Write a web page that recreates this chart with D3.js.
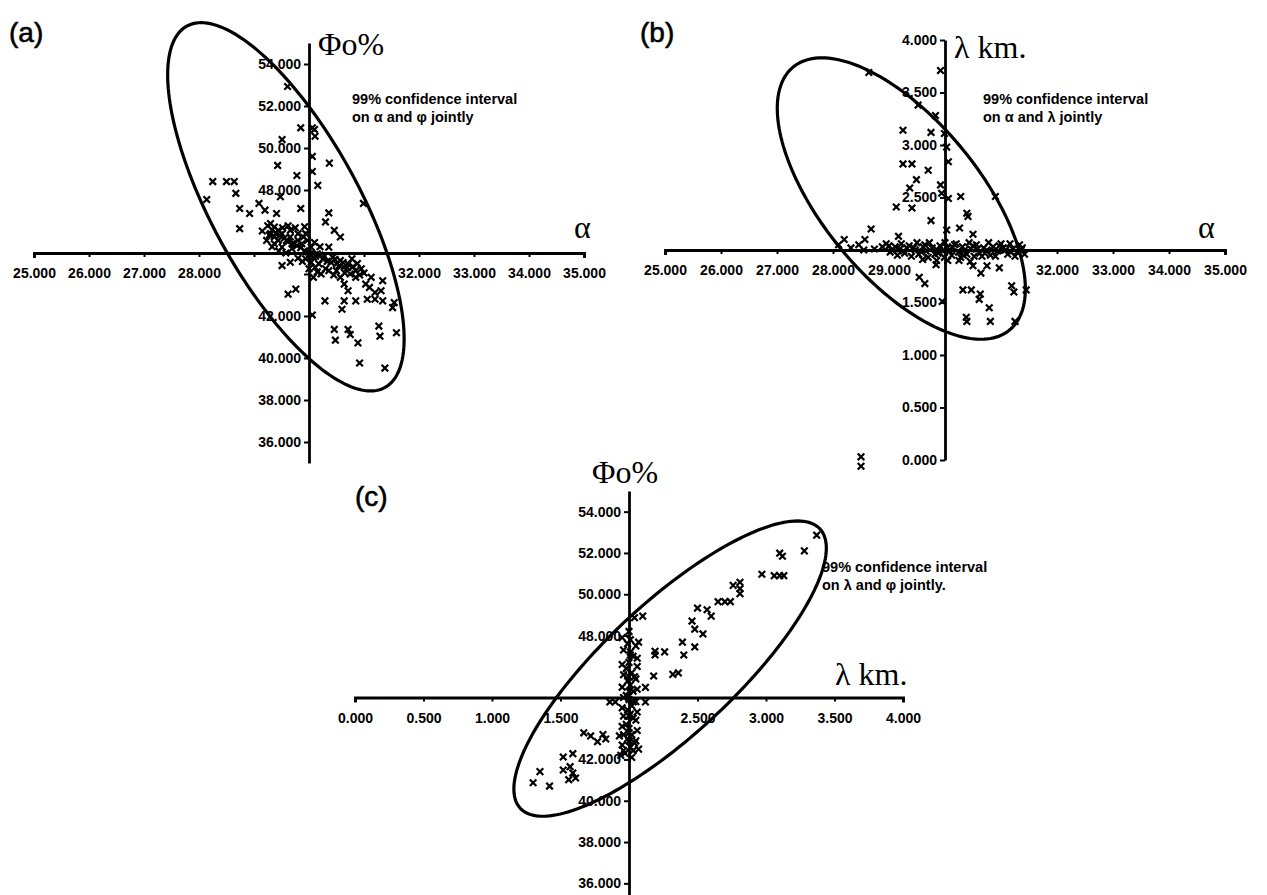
<!DOCTYPE html>
<html>
<head>
<meta charset="utf-8">
<script src="https://cdn.jsdelivr.net/npm/d3@7"></script>
<style>
body{margin:0;background:#fff}
svg text{font-family:"Liberation Sans",Arial,sans-serif;fill:#000}
</style>
</head>
<body>
<script>
// tick values and labels
const alphaTicks=[25,26,27,28,29,30,31,32,33,34,35];
const alphaLabelsA=[25,26,27,28,32,33,34,35];
const alphaLabelsB=[25,26,27,28,29,32,33,34,35];
const phiTicks=[36,38,40,42,44,46,48,50,52,54];
const phiLabels=[36,38,40,42,48,50,52,54];
const lambdaTicks=[0,0.5,1,1.5,2,2.5,3,3.5,4];
const lambdaLabels=[0,0.5,1,1.5,2.5,3,3.5,4];

// confidence ellipses: centre x, centre y, offset to top point (dx, dy), half width of horizontal chord through centre
const ellipseA=[29.58,47.2,-1.54,8.77,1.5];
const ellipseB=[29.22,2.49,-1.42,1.34,1.7];
const ellipseC=[2.30,46.4,0.93,7.15,0.66];

// (a) alpha vs phi
const pointsA=[
[29.61,52.93],[29.85,50.96],[30.06,50.96],[30.10,50.88],[30.11,50.56],[29.51,50.40],[29.43,49.17],[29.78,48.69],
[30.06,49.60],[30.06,48.88],[30.37,49.28],[30.16,48.22],[28.25,48.40],[28.50,48.40],[28.64,48.40],[28.14,47.55],
[28.67,47.84],[28.74,47.12],[28.92,46.88],[28.74,46.16],[29.09,47.36],[29.20,47.04],[29.41,46.88],[29.48,47.68],
[29.85,47.12],[30.36,46.91],[30.30,46.48],[30.99,47.36],[30.46,46.08],[30.57,45.76],
[29.30,46.40],[29.37,46.24],[29.44,46.08],[29.30,45.92],[29.37,45.76],[29.51,45.92],[29.66,46.08],[29.80,45.92],
[29.90,45.76],[29.23,45.60],[29.37,45.44],[29.59,45.60],[29.73,45.44],[29.87,45.44],[29.97,45.60],[30.04,45.28],
[29.69,45.20],[29.51,45.28],[29.44,45.60],[29.80,45.60],[29.94,45.92],[29.66,45.76],
[30.01,44.96],[30.08,44.80],[30.15,44.96],[30.04,44.56],[30.18,44.48],[30.25,44.72],[29.94,44.72],[30.11,44.32],
[30.36,45.28],[30.43,44.80],[30.50,44.48],[30.57,44.64],[30.64,44.32],[30.71,44.48],[30.78,44.72],[30.85,44.16],
[30.50,44.16],[30.36,44.16],[30.22,44.00],[30.08,43.84],[29.51,44.40],[29.66,44.56],
[29.25,46.30],[29.33,46.10],[29.40,45.95],[29.47,45.85],[29.55,45.70],[29.62,45.55],[29.70,45.45],[29.78,45.35],
[29.85,45.25],[29.92,45.10],[29.98,45.05],[30.03,44.90],[30.12,44.85],[30.20,44.90],[30.28,44.85],[30.33,44.60],
[30.40,44.55],[30.47,44.70],[30.55,44.40],[30.62,44.55],[30.70,44.30],[30.80,44.35],[30.88,44.50],[30.95,44.25],
[31.00,44.05],[30.92,43.95],[30.75,44.00],[30.65,44.05],[30.45,43.95],[30.30,44.25],[30.15,44.10],[30.00,44.25],
[29.88,44.60],[29.80,44.75],[29.58,45.00],[29.45,45.10],[29.33,45.30],[29.28,45.85],[29.52,46.20],[29.75,46.20],
[29.62,46.30],[29.15,46.05],[29.92,46.25],[30.20,45.30],[30.10,45.50],
[30.57,43.84],[30.64,43.52],[30.71,43.20],[30.85,43.84],[31.03,43.52],[31.10,43.36],[31.20,43.12],[31.13,43.84],
[31.31,43.20],[31.34,43.68],[30.85,42.72],[31.06,42.80],[31.20,42.80],[31.34,42.72],[31.55,42.64],[31.52,42.40],
[30.64,42.72],[30.60,42.32],[30.29,42.72],[29.76,43.28],[29.62,43.04],[30.06,42.05],
[30.46,41.36],[30.48,40.85],[30.71,41.36],[30.75,41.12],[30.89,40.72],[31.27,41.52],[31.29,41.04],[31.59,41.20],
[30.92,39.76],[31.38,39.52]
];

// (b) alpha vs lambda
const pointsB=[
[28.64,3.69],[29.92,3.71],[29.52,3.38],[29.83,3.28],[29.25,3.14],[29.75,3.12],[29.99,3.11],[30.03,2.98],
[30.06,2.84],[29.25,2.82],[29.41,2.82],[29.70,2.76],[29.49,2.67],[29.37,2.59],[29.92,2.62],[29.94,2.54],
[30.06,2.49],[30.28,2.51],[30.90,2.51],[29.13,2.41],[29.41,2.40],[30.39,2.35],[30.41,2.32],[29.75,2.28],
[30.03,2.19],[30.26,2.21],[28.68,2.20],[29.17,2.13],[30.50,2.15],[28.20,2.10],[28.57,2.10],[28.46,2.05],[28.10,2.05],
[28.32,2.02],[28.55,2.00],[28.74,2.01],[28.88,2.03],[29.02,1.98],[29.11,2.03],[29.19,2.01],[29.28,1.97],
[29.36,2.04],[29.47,2.00],[29.53,1.96],[29.61,2.03],[29.66,1.99],[29.77,2.02],[29.82,1.96],[29.91,2.04],
[29.96,1.99],[30.04,2.02],[30.12,1.95],[30.17,2.05],[30.24,1.98],[30.31,2.03],[30.39,1.96],[30.46,2.01],
[30.56,2.05],[30.62,1.97],[30.69,2.02],[30.81,1.95],[30.86,2.03],[30.94,1.99],[31.04,2.02],[31.12,1.96],
[31.21,2.01],[31.29,1.98],[31.38,2.02],
[28.95,2.06],[29.05,2.00],[29.15,1.95],[29.22,2.06],[29.32,2.02],[29.40,1.94],[29.50,2.07],[29.58,1.98],
[29.70,1.93],[29.72,2.07],[29.86,2.00],[29.99,1.93],[30.00,2.07],[30.08,1.99],[30.20,2.06],[30.28,1.93],
[30.35,2.00],[30.43,2.07],[30.52,1.94],[30.58,2.01],[30.66,1.94],[30.75,2.00],[30.78,2.07],[30.90,1.94],
[31.00,2.06],[31.08,2.00],[31.16,2.06],[31.25,1.94],[31.33,2.05],[31.42,1.96],[30.05,1.90],[30.25,1.90],
[30.45,1.89],[29.60,1.91],[29.85,1.90],
[29.00,2.04],[29.26,1.99],[29.44,2.02],[29.64,2.05],[29.88,1.97],[30.13,2.03],[30.33,1.95],[30.50,2.04],
[30.71,1.97],[30.97,2.04],[31.18,1.98],[31.36,2.00],
[29.84,1.86],[29.54,1.74],[29.64,1.68],[30.50,1.85],[30.64,1.78],[30.75,1.85],[30.97,1.83],[30.32,1.62],
[30.47,1.62],[30.63,1.58],[30.61,1.53],[31.19,1.66],[31.23,1.60],[31.45,1.62],[30.79,1.45],[30.38,1.36],
[30.39,1.32],[30.81,1.32],[31.25,1.32],[29.95,1.51],[28.50,0.03],[28.50,-0.06]
];

// (c) lambda vs phi
const pointsC=[
[3.37,52.86],[3.28,52.10],[3.10,51.99],[3.12,51.84],[2.97,50.97],[3.06,50.90],[3.10,50.90],[3.13,50.90],
[2.76,50.43],[2.81,50.58],[2.81,50.27],[2.81,50.03],[2.65,49.64],[2.70,49.64],[2.74,49.64],[2.50,49.33],
[2.57,49.25],[2.60,48.94],[2.46,48.70],[2.48,48.31],[2.54,48.08],[2.04,48.86],[2.10,48.94],[2.07,47.68],
[2.39,47.68],[2.40,47.06],[2.48,47.45],[2.26,47.21],[2.19,47.24],[2.19,47.06],[2.18,46.04],[2.32,46.12],
[2.36,46.19],[2.01,47.06],[2.12,45.49],[1.86,44.78],[1.90,44.78],[2.03,44.78],[2.12,44.78],
[1.67,43.29],[1.72,43.14],[1.77,42.86],[1.81,43.21],[1.83,42.99],[1.93,43.14],[1.96,42.43],[2.03,42.43],
[1.52,42.12],[1.59,42.28],[1.52,41.49],[1.57,41.65],[1.59,41.34],[1.61,41.10],[1.35,41.41],[1.30,40.87],
[1.42,40.71],[1.56,41.02],
[2.00,48.20],[1.99,47.60],[2.01,47.20],[2.03,47.00],[2.00,46.70],[1.98,46.40],[2.02,46.20],[2.04,46.00],
[1.99,45.80],[2.01,45.60],[2.03,45.30],[1.98,45.10],[2.00,44.90],[2.02,44.60],[1.99,44.40],[2.01,44.20],
[2.03,44.00],[1.98,43.70],[2.00,43.50],[2.02,43.20],[1.99,43.00],[2.04,42.80],[2.01,42.60],[1.97,42.30],
[1.95,47.90],[2.05,47.50],[1.96,47.30],[2.06,46.90],[1.95,46.60],[2.06,46.50],[1.96,46.10],[2.05,45.90],
[1.95,45.50],[2.06,45.40],[1.96,45.00],[2.05,44.80],[1.95,44.50],[2.06,44.30],[1.96,44.10],[2.05,43.90],
[1.95,43.60],[2.06,43.40],[1.96,43.20],[2.05,42.90],[1.95,42.70],[2.07,42.50],[1.94,42.20],[2.02,42.10],
[2.00,46.00],[2.00,45.30],[2.00,44.10],[2.00,43.30],[2.00,42.90],[2.01,47.80]
];

const W=1267, H=895;
const svg=d3.select("body").append("svg").attr("width",W).attr("height",H);

const fmt=d3.format(".3f");
const serif="'Liberation Serif','Times New Roman',serif";

let drawPanel=(cfg)=>{
  const g=svg.append("g");
  const x=cfg.x, y=cfg.y;

  // ellipse
  const [cx,cy,dx,dy,hw]=cfg.ellipse;
  const ts=d3.range(0,2*Math.PI,Math.PI/90);
  const line=d3.line().curve(d3.curveLinearClosed)
    .x(t=>x(cx+dx*Math.cos(t)+hw*Math.sin(t)))
    .y(t=>y(cy+dy*Math.cos(t)));
  g.append("path").attr("d",line(ts))
    .attr("fill","none").attr("stroke","#000").attr("stroke-width",3.2);

  // axes
  const xAxis=d3.axisBottom(x).tickValues(cfg.xTicks).tickSize(4).tickSizeOuter(5)
    .tickFormat(d=>cfg.xLabels.includes(d)?fmt(d):"");
  const gx=g.append("g").attr("transform","translate(0,"+y(cfg.yCross)+")").call(xAxis);
  const yAxis=d3.axisLeft(y).tickValues(cfg.yTicks).tickSize(5).tickSizeOuter(0)
    .tickFormat(d=>cfg.yLabels.includes(d)?fmt(d):"");
  const gy=g.append("g").attr("transform","translate("+x(cfg.xCross)+",0)").call(yAxis);
  [gx,gy].forEach(a=>{
    a.select(".domain").attr("stroke-width",2.8);
    a.selectAll(".tick line").attr("stroke-width",2);
    a.selectAll(".tick text").attr("font-weight","bold")
      .style("font-size","14px").style("font-family","'Liberation Sans',Arial,sans-serif");
  });
  gx.selectAll(".tick text").attr("dy","1.3em");

  // points
  const sym=d3.symbol(d3.symbolTimes,30);
  g.selectAll(".pt").data(cfg.points).enter().append("path")
    .attr("class","pt")
    .attr("transform",d=>"translate("+x(d[0])+","+y(d[1])+")")
    .attr("d",sym).attr("fill","none").attr("stroke","#000").attr("stroke-width",2.2);

  // texts
  g.append("text").attr("x",cfg.tag[0]).attr("y",cfg.tag[1])
    .style("font-size","28px").attr("stroke","#000").attr("stroke-width",0.6).text(cfg.tag[2]);
  cfg.serif.forEach(s=>{
    g.append("text").attr("x",s[0]).attr("y",s[1])
      .style("font-size",s[3]+"px").style("font-family",serif).text(s[2]);
  });
  cfg.note.forEach((s,i)=>{
    g.append("text").attr("x",cfg.noteXY[0]).attr("y",cfg.noteXY[1]+i*18)
      .style("font-size","14.5px").attr("font-weight","bold").text(s);
  });
};

drawPanel({
  x:d3.scaleLinear().domain([25,35]).range([34,584]),
  y:d3.scaleLinear().domain([35,55]).range([463,43]),
  xCross:30, yCross:45,
  xTicks:alphaTicks, xLabels:alphaLabelsA, yTicks:phiTicks, yLabels:phiLabels,
  ellipse:ellipseA, points:pointsA,
  tag:[9,42,"(a)"],
  serif:[[318,55,"\u03A6o%",32],[574,238,"\u03B1",32]],
  note:["99% confidence interval","on \u03B1 and \u03C6 jointly"], noteXY:[352,104]
});

drawPanel({
  x:d3.scaleLinear().domain([25,35]).range([665,1225]),
  y:d3.scaleLinear().domain([0,4]).range([460,40]),
  xCross:30, yCross:2,
  xTicks:alphaTicks, xLabels:alphaLabelsB, yTicks:lambdaTicks, yLabels:lambdaLabels,
  ellipse:ellipseB, points:pointsB,
  tag:[640,42,"(b)"],
  serif:[[954,58,"\u03BB km.",32],[1198,238,"\u03B1",32]],
  note:["99% confidence interval","on \u03B1 and \u03BB jointly"], noteXY:[983,104]
});

drawPanel({
  x:d3.scaleLinear().domain([0,4]).range([355,903]),
  y:d3.scaleLinear().domain([35,55]).range([904,491]),
  xCross:2, yCross:45,
  xTicks:lambdaTicks, xLabels:lambdaLabels, yTicks:phiTicks, yLabels:phiLabels,
  ellipse:ellipseC, points:pointsC,
  tag:[355,506,"(c)"],
  serif:[[592,483,"\u03A6o%",32],[835,685,"\u03BB km.",32]],
  note:["99% confidence interval","on \u03BB and \u03C6 jointly."], noteXY:[822,572]
});
</script>
</body>
</html>
